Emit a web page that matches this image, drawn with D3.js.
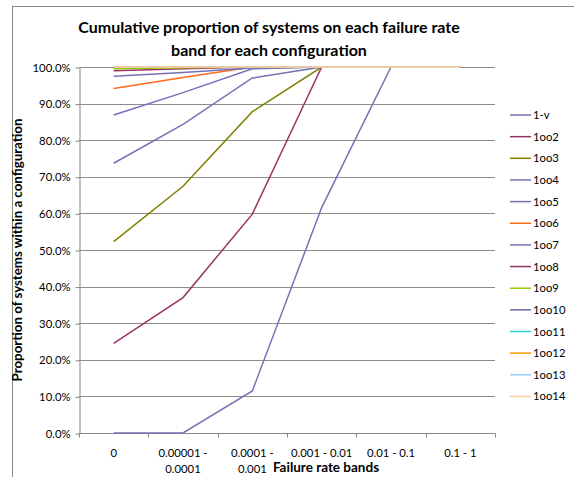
<!DOCTYPE html>
<html>
<head>
<meta charset="utf-8">
<script src="https://cdn.jsdelivr.net/npm/d3@7"></script>
<style>
  html, body { margin: 0; padding: 0; background: #fff; }
  svg { display: block; }
  text { font-family: Lato, "Open Sans", sans-serif; fill: #000; }
</style>
</head>
<body>
<svg id="chart" width="574" height="477"></svg>
<script>
// Failure rate bands (x categories)
const categories = ["0", "0.00001 - 0.0001", "0.0001 - 0.001", "0.001 - 0.01", "0.01 - 0.1", "0.1 - 1"];

// Configurations, in legend order
const seriesNames = ["1-v", "1oo2", "1oo3", "1oo4", "1oo5", "1oo6", "1oo7",
                     "1oo8", "1oo9", "1oo10", "1oo11", "1oo12", "1oo13", "1oo14"];

// Cumulative proportion (%) per band
const v1    = [0,    0,    11.5, 61.6, 100, 100];
const oo2   = [24.5, 37.0, 59.8, 100,  100, 100];
const oo3   = [52.3, 67.4, 87.8, 100,  100, 100];
const oo4   = [73.7, 84.3, 97.0, 100,  100, 100];
const oo5   = [86.9, 93.0, 99.5, 100,  100, 100];
const oo6   = [94.1, 97.1, 100,  100,  100, 100];
const oo7   = [97.5, 98.5, 99.7, 100,  100, 100];
const oo8   = [99.0, 99.5, 100,  100,  100, 100];
const oo9   = [99.5, 99.8, 100,  100,  100, 100];
const oo10  = [100,  100,  100,  100,  100, 100];
const oo11  = [100,  100,  100,  100,  100, 100];
const oo12  = [100,  100,  100,  100,  100, 100];
const oo13  = [100,  100,  100,  100,  100, 100];
const oo14  = [100,  100,  100,  100,  100, 100];

const seriesValues = [v1, oo2, oo3, oo4, oo5, oo6, oo7, oo8, oo9, oo10, oo11, oo12, oo13, oo14];

const seriesColors = ["#7272b8", "#993366", "#808000", "#7272b8", "#7272b8", "#ff6a1a",
                      "#7272b8", "#993366", "#99cc00", "#6a6aac", "#33cccc", "#ff9900",
                      "#99ccff", "#ffcc99"];

const yTicks = [0, 0.1, 0.2, 0.3, 0.4, 0.5, 0.6, 0.7, 0.8, 0.9, 1.0];

const svg = d3.select("#chart");

// Outer chart frame
svg.append("rect")
  .attr("x", 12.5).attr("y", 6.5)
  .attr("width", 700).attr("height", 600)
  .attr("fill", "none").attr("stroke", "#878787").attr("stroke-width", 1);

const plot = { left: 79, right: 495, top: 67, bottom: 433 };

const x = d3.scaleBand().domain(categories).range([plot.left, plot.right]).padding(0);
const y = d3.scaleLinear().domain([0, 1]).range([plot.bottom, plot.top]);
const cx = c => x(c) + x.bandwidth() / 2;

// Horizontal gridlines
svg.append("g")
  .selectAll("line")
  .data(yTicks.filter(t => t > 0))
  .join("line")
  .attr("x1", plot.left).attr("x2", plot.right)
  .attr("y1", d => Math.round(y(d)) + 0.5).attr("y2", d => Math.round(y(d)) + 0.5)
  .attr("stroke", "#8c8c8c").attr("stroke-width", 1);

// Y axis
const yAxis = svg.append("g")
  .attr("transform", `translate(${plot.left + 0.5},0.5)`)
  .call(d3.axisLeft(y).tickValues(yTicks).tickFormat(d3.format(".1%")).tickSizeInner(4).tickSizeOuter(0).tickPadding(5));
yAxis.select(".domain").attr("stroke", "#868686");
yAxis.selectAll(".tick line").attr("stroke", "#868686");
yAxis.selectAll(".tick text").attr("font-size", 11.3).attr("font-family", "Lato, sans-serif").attr("fill", "#000");

// X axis (ticks on band boundaries)
const xAxisG = svg.append("g").attr("transform", `translate(0,${plot.bottom + 0.5})`);
xAxisG.append("line")
  .attr("x1", plot.left).attr("x2", plot.right)
  .attr("stroke", "#868686");
xAxisG.selectAll("line.tk")
  .data(categories.map(c => x(c)).concat([plot.right]))
  .join("line").attr("class", "tk")
  .attr("x1", d => Math.round(d) + 0.5).attr("x2", d => Math.round(d) + 0.5)
  .attr("y1", 0).attr("y2", 4)
  .attr("stroke", "#868686");

// Category labels, wrapped after the dash when long
const labels = xAxisG.selectAll("text.cat")
  .data(categories)
  .join("text").attr("class", "cat")
  .attr("x", d => cx(d))
  .attr("text-anchor", "middle")
  .attr("font-size", 11.3);
labels.each(function (d) {
  const lines = d.length > 12 ? [d.slice(0, d.indexOf("-") + 1), d.slice(d.indexOf("-") + 2)] : [d];
  d3.select(this).selectAll("tspan")
    .data(lines)
    .join("tspan")
    .attr("x", cx(d))
    .attr("y", (l, i) => 23 + i * 16)
    .text(l => l);
});

// Series lines
const line = d3.line()
  .x((v, i) => cx(categories[i]))
  .y(v => y(v / 100));

svg.append("g")
  .selectAll("path")
  .data(seriesValues.map((vals, i) => ({ name: seriesNames[i], vals, color: seriesColors[i] })))
  .join("path")
  .attr("d", d => line(d.vals))
  .attr("fill", "none")
  .attr("stroke", d => d.color)
  .attr("stroke-width", 1.5);

// Legend
const legend = svg.append("g");
const legendItems = legend.selectAll("g")
  .data(seriesNames)
  .join("g")
  .attr("transform", (d, i) => `translate(0,${115 + i * 21.65})`);
legendItems.append("line")
  .attr("x1", 510).attr("x2", 531)
  .attr("stroke", (d, i) => seriesColors[i])
  .attr("stroke-width", 1.5);
legendItems.append("text")
  .attr("x", 533).attr("y", 4)
  .attr("font-size", 11.3)
  .text(d => d);

// Title
const title = svg.append("text")
  .attr("x", 269).attr("text-anchor", "middle")
  .attr("font-size", 16).attr("font-weight", "bold");
title.append("tspan").attr("x", 269).attr("y", 33).text("Cumulative proportion of systems on each failure rate");
title.append("tspan").attr("x", 269).attr("y", 56).text("band for each configuration");

// Axis titles
svg.append("text")
  .attr("transform", `translate(22,${(plot.top + plot.bottom) / 2}) rotate(-90)`)
  .attr("text-anchor", "middle")
  .attr("font-size", 13.3).attr("font-weight", "bold")
  .text("Proportion of systems within a configuration");

svg.append("text")
  .attr("x", 326).attr("y", 472)
  .attr("text-anchor", "middle")
  .attr("font-size", 13.5).attr("font-weight", "bold")
  .text("Failure rate bands");
</script>
</body>
</html>
